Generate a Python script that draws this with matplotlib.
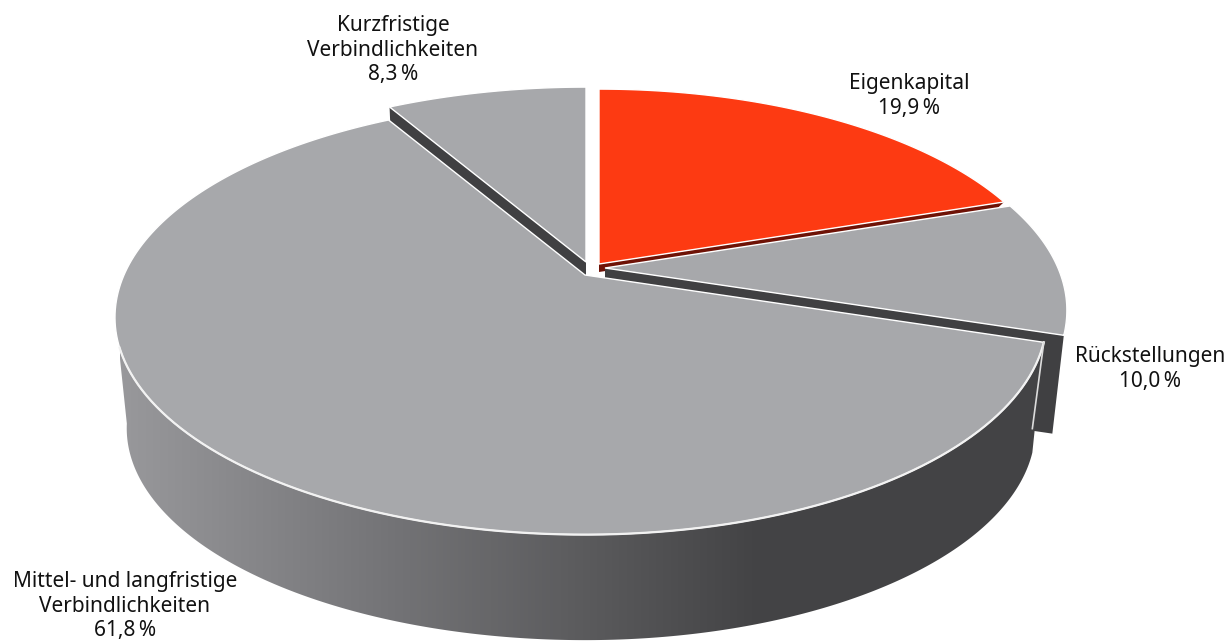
import numpy as np
import matplotlib
matplotlib.use("Agg")
import matplotlib.pyplot as plt
from matplotlib.colors import LinearSegmentedColormap
from matplotlib.patches import Polygon

# shares, clockwise from 12 o'clock
categories = ["Eigenkapital", "Rückstellungen", "Mittel- und langfristige\nVerbindlichkeiten", "Kurzfristige\nVerbindlichkeiten"]
shares = [19.9, 10.0, 61.8, 8.3]
top_colors = ["#fd3a12", "#a7a8ab", "#a7a8ab", "#a7a8ab"]
wall_colors = ["#6e1206", "#404042", "#404042", "#404042"]
# slice apex in pixels, the small ones are pulled out of the main slice
apex = [(599, 264), (605, 268), (585, 275), (586, 262)]
wall_drop = [8, 100, 112, 112]
label_pos = [(909, 96), (1150, 369), (125, 606), (393, 50)]

# perspective of the disc, right half is a bit narrower than the left
A_LEFT = 461.0
A_RIGHT = 453.0
B = 209.0
P = 0.195
SHRINK = 0.975


def project(angle, center, drop=0.0):
    # angle in degrees clockwise from the top of the circle
    t = np.radians(angle)
    u = np.sin(t)
    v = np.cos(t)
    w = 1 + P * v
    x = np.where(u > 0, A_RIGHT, A_LEFT) * u / w
    y = -B * v / w
    if drop:
        x = x * SHRINK
        y = y * SHRINK + drop
    return center[0] + x, center[1] + y


plt.rcParams['font.family'] = ['Noto Sans', 'DejaVu Sans']
fig = plt.figure(figsize=(12.31, 6.41), dpi=100)
ax = fig.add_axes([0, 0, 1, 1])
ax.set_xlim(0, 1231)
ax.set_ylim(641, 0)
ax.axis("off")

edges = np.concatenate([[0], np.cumsum(shares)]) * 3.6

# order: small slices first, the big one is in front of them
for i in [3, 0, 1, 2]:
    start = edges[i]
    stop = edges[i + 1]
    c = apex[i]
    ang = np.linspace(start, stop, 200)
    px, py = project(ang, c)

    if i == 2:
        # big round wall with the horizontal shading
        wall_ang = np.linspace(start, 260, 300)
        tx, ty = project(wall_ang, c)
        bx, by = project(wall_ang, c, wall_drop[i])
        wall = Polygon(np.column_stack([np.r_[tx, bx[::-1]], np.r_[ty, by[::-1]]]), closed=True, fc="none", ec="none")
        ax.add_patch(wall)
        cmap = LinearSegmentedColormap.from_list("wall", [
            (0.0, "#98989b"), (0.26, "#77777a"), (0.5, "#5a5a5c"), (0.68, "#434345"), (1.0, "#434345")])
        im = ax.imshow(np.linspace(0, 1, 256).reshape(1, -1), cmap=cmap, extent=[120, 1060, 641, 300], aspect="auto", zorder=1 + i)
        im.set_clip_path(wall)
        ax.set_xlim(0, 1231)
        ax.set_ylim(641, 0)
    else:
        # straight wall under the cut edge
        cut = stop if i == 1 or i == 0 else start
        ex, ey = project(cut, c)
        fx, fy = project(cut, c, wall_drop[i])
        lx = c[0]
        ly = c[1] + wall_drop[i]
        ax.fill([c[0], ex, fx, lx], [c[1], ey, fy, ly], color=wall_colors[i], lw=0, zorder=1 + i if i != 3 else 0)

    ax.fill(np.r_[c[0], px], np.r_[c[1], py], fc=top_colors[i], ec="white", lw=1.0, zorder=1.5 + i if i != 3 else 0.5)

    if i == 2:
        # white rim between top and wall, and down the right end
        rx, ry = project(np.linspace(start, 251, 200), c)
        ax.plot(rx, ry, color="#f2f2f2", lw=1.6, zorder=5)
        sx, sy = project(start, c)
        dx, dy = project(start, c, 88)
        ax.plot([sx, dx], [sy, dy], color="#dcdcdc", lw=1.2, zorder=5)

for i in range(len(categories)):
    value = ("%.1f" % shares[i]).replace(".", ",")
    ax.text(label_pos[i][0], label_pos[i][1], categories[i] + "\n" + value + "\u2009%",
            ha="center", va="center", fontsize=15, color="#111111", linespacing=1.24, zorder=6)

fig.savefig("out.png", dpi=100)
